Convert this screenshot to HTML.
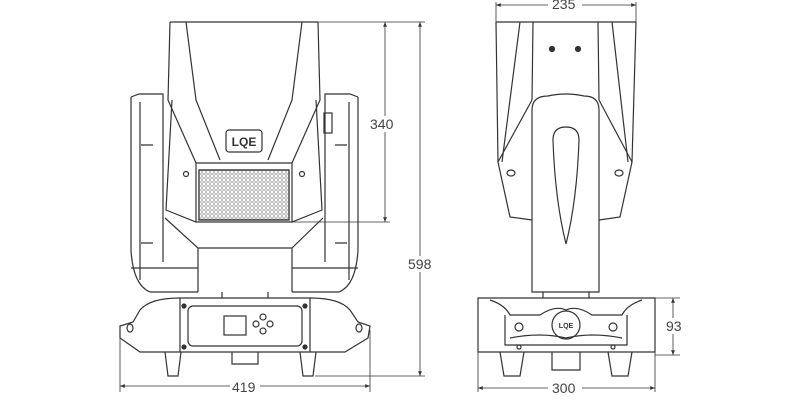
<!DOCTYPE html>
<html><head><meta charset="utf-8"><style>
html,body{margin:0;padding:0;background:#fff;}
svg{display:block;}
text{font-family:"Liberation Sans",sans-serif;font-size:14px;fill:#444;}
</style></head><body>
<svg width="800" height="400" viewBox="0 0 800 400" xmlns="http://www.w3.org/2000/svg">
<defs>
<marker id="a" viewBox="0 0 10 10" refX="10" refY="5" markerWidth="8" markerHeight="6" orient="auto-start-reverse"><path d="M0,1 L10,5 L0,9 z" fill="#333"/></marker>
<pattern id="hex" width="4" height="4" patternUnits="userSpaceOnUse"><circle cx="2" cy="2" r="1.3" fill="none" stroke="#555" stroke-width="0.5"/></pattern>
</defs>
<g fill="none" stroke="#333" stroke-width="1.2">
<path d="M131,97 L139,94 L163,94 L163,262 M131,97 L131,250 Q133,285 150,292 L198,292"/>
<path d="M358,97 L350,94 L325,94 L325,262 M358,97 L358,250 Q356,285 339,292 L292,292"/>
<path d="M140,102 L140,280 M349,102 L349,280"/>
<path d="M131,268 L198,268 M292,268 L358,268"/>
<path d="M165,218 L198,248 L198,292 M323,218 L292,248 L292,292 M198,248 L292,248"/>
<path d="M170,22 L318,22 M170,22 L168,100 L196,163 L292,163 L320,100 L318,22"/>
<path d="M186,22 L196,100 L220,160 M302,22 L292,100 L268,160"/>
<path d="M172,100 L166,210 L196,222 L292,222 L322,210 L316,100"/>
<path d="M196,163 L196,222 M292,163 L292,222"/>
<rect x="199" y="170" width="90" height="50" fill="url(#hex)"/>
<rect x="199" y="170" width="90" height="50"/>
<rect x="226" y="130" width="36" height="22" rx="3"/>
<circle cx="186" cy="174" r="2.5"/><circle cx="302" cy="174" r="2.5"/>
<rect x="324" y="113" width="8" height="20"/>
<path d="M141,145 h12 M335,145 h12 M141,243 h12 M335,243 h12"/>
<path d="M222,292 L222,298 M268,292 L268,298"/>
<path d="M180,298 L310,298 Q340,298 350,310 L358,322 L370,326 L368,338 L345,352 L140,352 L120,338 L120,326 L133,322 L140,310 Q150,298 180,298"/>
<path d="M180,298 L180,352 M310,298 L310,352"/>
<rect x="188" y="306" width="114" height="40" rx="5"/>
<rect x="224" y="316" width="22" height="19"/>
<circle cx="263" cy="317" r="3"/><circle cx="256" cy="324" r="3"/><circle cx="270" cy="324" r="3"/><circle cx="263" cy="331" r="3"/>
<circle cx="184" cy="306" r="2" fill="#333"/><circle cx="305" cy="306" r="2" fill="#333"/><circle cx="184" cy="347" r="2" fill="#333"/><circle cx="305" cy="347" r="2" fill="#333"/>
<ellipse cx="130" cy="328" rx="3" ry="4"/><ellipse cx="359" cy="328" rx="3" ry="4"/>
<path d="M165,352 L168,376 L178,376 L181,352 M300,352 L303,376 L313,376 L316,352"/>
<path d="M232,352 L232,364 L258,364 L258,352"/>
<path d="M496,22 L636,22 M496,22 L498,162 L510,217 L532,220 M636,22 L632,162 L620,217 L599,220"/>
<path d="M520,22 L502,162 M612,22 L628,162"/>
<path d="M533,22 L532,100 M598,22 L599,100 M532,100 L498,162 M599,100 L632,162"/>
<path d="M532,292 L532,110 Q532,96 548,96 Q566,92 584,96 Q599,96 599,110 L599,292 Z"/>
<path d="M566,127 Q553,127 553,140 Q555,200 566,244 Q577,200 579,140 Q579,127 566,127 Z"/>
<circle cx="552" cy="49" r="2.5" fill="#333"/><circle cx="578" cy="49" r="2.5" fill="#333"/>
<ellipse cx="511" cy="173" rx="4" ry="3"/><ellipse cx="619" cy="173" rx="4" ry="3"/>
<path d="M543,292 L543,298 M589,292 L589,298"/>
<path d="M478,298 L655,298 L655,352 L478,352 Z"/>
<path d="M490,300 Q505,305 510,315 L540,315 Q555,305 566,310 Q577,305 592,315 L622,315 Q627,305 642,300"/>
<path d="M505,315 L505,345 L627,345 L627,315"/>
<path d="M510,338 Q540,332 566,338 Q592,332 622,338"/>
<circle cx="519" cy="327" r="4"/><circle cx="613" cy="327" r="4"/>
<circle cx="566" cy="325" r="14"/>
<circle cx="519" cy="347" r="2"/><circle cx="613" cy="347" r="2"/>
<path d="M500,352 L504,376 L520,376 L524,352 M608,352 L612,376 L628,376 L632,352"/>
<path d="M552,352 L552,370 L580,370 L580,352"/>
</g>
<text x="244" y="146" text-anchor="middle" style="font-size:12px;font-weight:bold;fill:#333">LQE</text>
<text x="566" y="328" text-anchor="middle" style="font-size:7px;font-weight:bold;fill:#333">LQE</text>
<g fill="none" stroke="#333" stroke-width="0.8">
<path d="M318,22 L425,22 M292,222 L390,222 M315,376 L425,376"/>
<path d="M385,22 L385,222" marker-start="url(#a)" marker-end="url(#a)"/>
<path d="M420,22 L420,376" marker-start="url(#a)" marker-end="url(#a)"/>
<path d="M120,330 L120,392 M370,330 L370,392"/>
<path d="M120,386 L370,386" marker-start="url(#a)" marker-end="url(#a)"/>
<path d="M496,2 L496,22 M636,2 L636,22"/>
<path d="M496,5 L636,5" marker-start="url(#a)" marker-end="url(#a)"/>
<path d="M478,352 L478,392 M655,352 L655,392"/>
<path d="M478,388 L655,388" marker-start="url(#a)" marker-end="url(#a)"/>
<path d="M655,298 L680,298 M655,355 L680,355"/>
<path d="M673,298 L673,355" marker-start="url(#a)" marker-end="url(#a)"/>
</g>
<g>
<rect x="368" y="116" width="32" height="16" fill="#fff"/>
<text x="370" y="129">340</text>
<rect x="407" y="256" width="28" height="16" fill="#fff"/>
<text x="408" y="269">598</text>
<rect x="230" y="379" width="30" height="16" fill="#fff"/>
<text x="232" y="392">419</text>
<rect x="548" y="0" width="34" height="11" fill="#fff"/>
<text x="552" y="9">235</text>
<rect x="548" y="381" width="34" height="16" fill="#fff"/>
<text x="552" y="393">300</text>
<rect x="664" y="318" width="20" height="16" fill="#fff"/>
<text x="666" y="331">93</text>
</g>
</svg>
</body></html>
